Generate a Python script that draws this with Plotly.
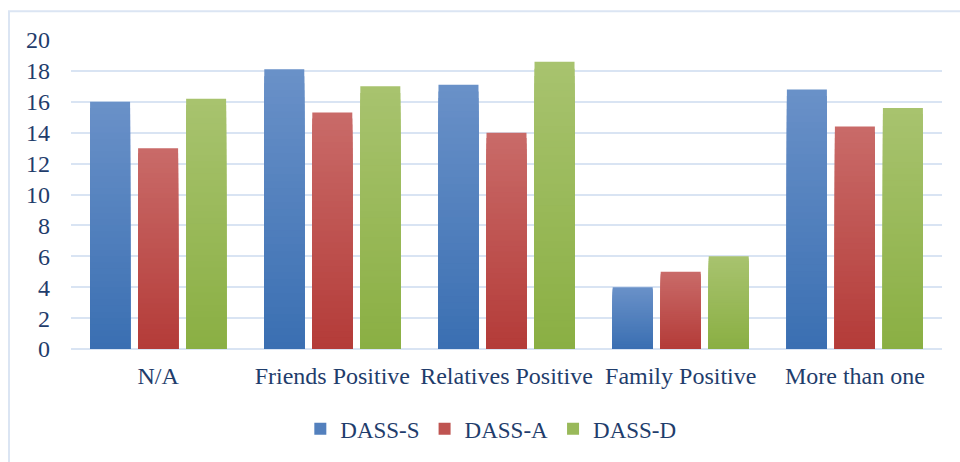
import plotly.graph_objects as go

categories = ["N/A", "Friends Positive", "Relatives Positive", "Family Positive", "More than one"]
dass_s = [16.0, 18.1, 17.1, 4.0, 16.8]
dass_a = [13.0, 15.3, 14.0, 5.0, 14.4]
dass_d = [16.2, 17.0, 18.6, 6.0, 15.6]

series = [
    ("DASS-S", dass_s, "#6a91c8", "#3a6fb2"),
    ("DASS-A", dass_a, "#c96b69", "#b43b38"),
    ("DASS-D", dass_d, "#a8c36f", "#8aaf43"),
]

TEXT = "#1f3d6c"
GRID = "#d9e4f3"
FONT = "Liberation Serif"
N_STEPS = 40  # vertical gradient levels per bar


def hex_to_rgb(h):
    h = h.lstrip("#")
    return tuple(int(h[i:i + 2], 16) for i in (0, 2, 4))


def mix(c_top, c_bot, t):
    a, b = hex_to_rgb(c_top), hex_to_rgb(c_bot)
    r = [round(b[i] + (a[i] - b[i]) * t) for i in range(3)]
    return "rgb({},{},{})".format(*r)


fig = go.Figure()
for name, vals, top, bot in series:
    # nested bars from the full height down to the lowest level, each drawn over
    # the previous one, giving a light-to-dark vertical gradient without seams
    for k in range(N_STEPS - 1, -1, -1):
        t = (k + 0.5) / N_STEPS
        fig.add_trace(go.Bar(
            x=categories,
            y=[v * (k + 1) / N_STEPS for v in vals],
            offsetgroup=name,
            legendgroup=name,
            name=name,
            showlegend=(k == N_STEPS // 2),
            marker=dict(color=mix(top, bot, t), line=dict(width=0)),
            hoverinfo="x+name+y" if k == N_STEPS - 1 else "skip",
        ))

fig.update_layout(
    width=960, height=462,
    margin=dict(l=71, r=18, t=40, b=111),
    paper_bgcolor="white", plot_bgcolor="white",
    barmode="group", bargap=0.173, bargroupgap=0.167,
    font=dict(family=FONT, color=TEXT, size=24),
    legend=dict(
        orientation="h", x=0.482, xanchor="center", y=-0.258, yanchor="middle",
        font=dict(family=FONT, color=TEXT, size=23), traceorder="normal",
        itemwidth=30,
    ),
    shapes=[dict(
        type="rect", xref="paper", yref="paper",
        x0=-0.0712, x1=1.06, y0=-0.45, y1=1.0934,
        line=dict(color="#dbe5f3", width=2), fillcolor="rgba(0,0,0,0)", layer="below",
    )],
)

fig.update_xaxes(
    showline=False, showgrid=False, ticks="", ticklabelstandoff=10,
    tickfont=dict(family=FONT, color=TEXT, size=24),
)
fig.update_yaxes(
    range=[0, 20], dtick=2, tick0=0,
    showgrid=True, gridcolor=GRID, gridwidth=2,
    zeroline=True, zerolinecolor=GRID, zerolinewidth=2,
    showline=False, ticks="", ticklabelstandoff=20,
    tickfont=dict(family=FONT, color=TEXT, size=24),
)

fig.write_html("out.html")
